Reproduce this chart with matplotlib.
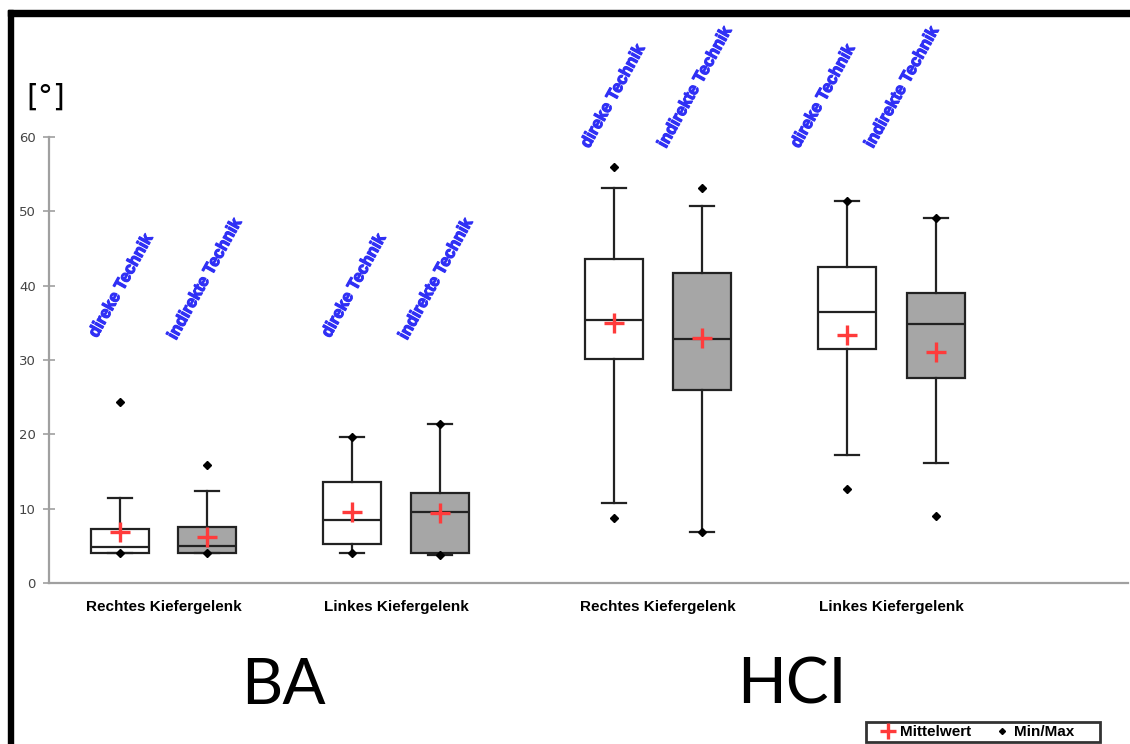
import matplotlib.pyplot as plt
import matplotlib.patheffects as pe
from matplotlib.patches import Rectangle

# five-number summaries (degrees)
groups = ['Rechtes Kiefergelenk', 'Linkes Kiefergelenk',
          'Rechtes Kiefergelenk', 'Linkes Kiefergelenk']
techniques = ['direke Technik', 'indirekte Technik'] * 4
q1 = [4.0, 4.0, 5.2, 4.1, 30.1, 26.0, 31.5, 27.6]
med = [4.8, 5.0, 8.5, 9.6, 35.4, 32.8, 36.4, 34.9]
q3 = [7.3, 7.5, 13.6, 12.1, 43.6, 41.7, 42.5, 39.0]
whislo = [4.0, 4.0, 4.0, 3.8, 10.8, 6.9, 17.2, 16.2]
whishi = [11.4, 12.4, 19.7, 21.4, 53.2, 50.7, 51.4, 49.1]
means = [6.9, 6.2, 9.5, 9.4, 35.0, 33.0, 33.4, 31.1]
vmin = [4.0, 4.0, 4.0, 3.8, 8.8, 6.9, 12.7, 9.0]
vmax = [24.4, 15.9, 19.7, 21.4, 55.9, 53.2, 51.4, 49.1]

# layout (axis units ~ pixels)
positions = [71, 158, 303, 391, 565, 653, 798, 887]
group_pos = [114.5, 347, 609, 842.5]
label_xy = [(48, 32.9), (127, 32.6), (281, 32.9), (358, 32.6),
            (540, 58.4), (617, 58.4), (750, 58.4), (824, 58.4)]
fills = ['white', '#a6a6a6'] * 4

fig = plt.figure(figsize=(11.3, 7.44), dpi=100)
ax = fig.add_axes([49 / 1130, 1 - 583 / 744, 1079 / 1130, 446 / 744])

stats = []
for i in range(len(q1)):
    stats.append(dict(q1=q1[i], med=med[i], q3=q3[i], whislo=whislo[i],
                      whishi=whishi[i], mean=means[i], fliers=[]))

bp = ax.bxp(stats, positions=positions, widths=58, capwidths=24,
            patch_artist=True, showmeans=False,
            boxprops=dict(linewidth=1.6, edgecolor='#222222'),
            medianprops=dict(color='#222222', linewidth=1.6),
            whiskerprops=dict(color='#222222', linewidth=1.6),
            capprops=dict(color='#222222', linewidth=1.6))
for patch, c in zip(bp['boxes'], fills):
    patch.set_facecolor(c)
for m in bp['medians']:
    m.set_zorder(3)

ax.plot(positions, means, linestyle='none', marker='+', markersize=14,
        markeredgewidth=2.4, color='#ff3b3b', zorder=5, label='Mittelwert')
ax.plot(positions + positions, vmin + vmax, linestyle='none', marker='D',
        markersize=3.8, color='black', zorder=6, label='Min/Max')

for (x, y), t in zip(label_xy, techniques):
    ax.text(x, y, t, rotation=61, rotation_mode='anchor', ha='left',
            va='baseline', color='#3030f5', fontsize=12, fontweight='bold',
            family='Liberation Sans', clip_on=False,
            path_effects=[pe.withStroke(linewidth=0.9, foreground='#3030f5')])

ax.set_xlim(0, 1079)
ax.set_ylim(0, 60)
ax.set_yticks([0, 10, 20, 30, 40, 50, 60])
ax.set_xticks(group_pos)
ax.set_xticklabels(groups, fontsize=11, fontweight='bold', family='Liberation Sans')
ax.tick_params(axis='x', length=0, pad=12)
ax.tick_params(axis='y', direction='inout', length=9, width=1.2,
               color='#a0a0a0', labelcolor='#444444', labelsize=9.5, pad=5)
for s in ['top', 'right']:
    ax.spines[s].set_visible(False)
for s in ['left', 'bottom']:
    ax.spines[s].set_color('#a0a0a0')
    ax.spines[s].set_linewidth(1.6)

fig.text(46 / 1130, 1 - 97 / 744, '[°]', fontsize=22, ha='center', va='center')
fig.text(283 / 1130, 1 - 686 / 744, 'BA', fontsize=46, family='Lato',
         ha='center', va='center')
fig.text(792 / 1130, 1 - 686 / 744, 'HCI', fontsize=46, family='Lato',
         ha='center', va='center')

# frame bars of the original figure
fig.add_artist(Rectangle((8 / 1130, 1 - 16 / 744), 1 - 8 / 1130, 6 / 744,
                         transform=fig.transFigure, color='black'))
fig.add_artist(Rectangle((8 / 1130, 0), 5 / 1130, 1 - 10 / 744,
                         transform=fig.transFigure, color='black'))

# legend with a fixed frame like the original
fig.add_artist(Rectangle((866 / 1130, 2 / 744), 234 / 1130, 20 / 744,
                         transform=fig.transFigure, facecolor='white',
                         edgecolor='#333333', linewidth=2, zorder=9))
leg = fig.legend(loc='center', bbox_to_anchor=(978 / 1130, 12 / 744),
                 ncol=2, frameon=False, handlelength=0.8, handletextpad=0.4,
                 columnspacing=1.6, borderpad=0, markerscale=0.8,
                 prop=dict(weight='bold', family='Liberation Sans', size=11))
leg.set_zorder(10)

plt.savefig('out.png')
